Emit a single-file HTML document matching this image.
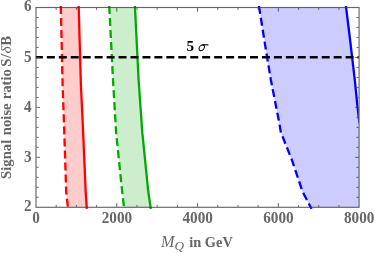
<!DOCTYPE html>
<html><head><meta charset="utf-8"><title>plot</title>
<style>html,body{margin:0;padding:0;background:#fff;overflow:hidden}svg{display:block;will-change:transform}</style>
</head><body>
<svg width="374" height="253" viewBox="0 0 374 253">
<defs><filter id="idf" x="0" y="0" width="374" height="253" filterUnits="userSpaceOnUse"><feOffset dx="0" dy="0"/></filter><clipPath id="c"><rect x="35.90" y="5.90" width="322.80" height="203.00"/></clipPath></defs>
<rect width="374" height="253" fill="#fff"/>
<polygon points="60.80,7.50 62.60,85.00 64.10,127.00 66.20,192.00 67.90,207.30 86.70,207.30 85.70,192.00 82.90,127.00 80.90,85.00 78.70,7.50" fill="#ffcccc"/>
<polygon points="109.30,7.50 113.00,80.00 116.10,132.40 122.20,192.00 124.00,207.30 150.60,207.30 148.30,192.00 142.30,132.40 138.60,80.00 135.00,7.50" fill="#cceecc"/>
<polygon points="259.15,7.50 264.00,38.00 267.10,57.40 270.90,80.00 278.70,120.00 280.90,132.40 291.90,160.00 302.50,191.50 310.70,207.30 359.10,207.30 359.10,122.80 358.50,115.00 357.30,105.00 354.80,80.00 350.10,40.00 346.10,7.50" fill="#ccccff"/>
<g fill="none" stroke-width="2.3" clip-path="url(#c)">
<path d="M60.76 5.90 L60.80 7.50 L62.60 85.00 L64.10 127.00 L66.20 192.00 L67.90 207.30 L68.08 208.90" stroke="#ff0000" stroke-dasharray="8.05 4.0"/>
<path d="M78.65 5.90 L78.70 7.50 L80.90 85.00 L82.90 127.00 L85.70 192.00 L86.70 207.30 L86.80 208.90" stroke="#ff0000"/>
<path d="M109.22 5.90 L109.30 7.50 L113.00 80.00 L116.10 132.40 L122.20 192.00 L124.00 207.30 L124.19 208.90" stroke="#00aa00" stroke-dasharray="8.05 4.0"/>
<path d="M134.92 5.90 L135.00 7.50 L138.60 80.00 L142.30 132.40 L148.30 192.00 L150.60 207.30 L150.84 208.90" stroke="#00aa00"/>
<path d="M258.90 5.90 L259.15 7.50 L264.00 38.00 L267.10 57.40 L270.90 80.00 L278.70 120.00 L280.90 132.40 L291.90 160.00 L302.50 191.50 L310.70 207.30 L311.53 208.90" stroke="#0000ff" stroke-dasharray="8.05 4.0"/>
<path d="M345.90 5.90 L346.10 7.50 L350.10 40.00 L354.80 80.00 L357.30 105.00 L358.50 115.00 L359.40 122.80" stroke="#0000ff"/>
<path d="M34.90 57.26 H360.10" stroke="#000" stroke-dasharray="8 3.95"/>
</g>
<rect x="36.0" y="7.5" width="323.1" height="199.8" fill="none" stroke="#404040" stroke-opacity="0.8" stroke-width="1.15"/>
<path d="M56.19 206.8 v-1.8 M56.19 8.0 v1.8 M76.39 206.8 v-1.8 M76.39 8.0 v1.8 M96.58 206.8 v-1.8 M96.58 8.0 v1.8 M116.78 206.8 v-3.7 M116.78 8.0 v3.7 M136.97 206.8 v-1.8 M136.97 8.0 v1.8 M157.16 206.8 v-1.8 M157.16 8.0 v1.8 M177.36 206.8 v-1.8 M177.36 8.0 v1.8 M197.55 206.8 v-3.7 M197.55 8.0 v3.7 M217.74 206.8 v-1.8 M217.74 8.0 v1.8 M237.94 206.8 v-1.8 M237.94 8.0 v1.8 M258.13 206.8 v-1.8 M258.13 8.0 v1.8 M278.33 206.8 v-3.7 M278.33 8.0 v3.7 M298.52 206.8 v-1.8 M298.52 8.0 v1.8 M318.71 206.8 v-1.8 M318.71 8.0 v1.8 M338.91 206.8 v-1.8 M338.91 8.0 v1.8 M36.5 197.31 h2.1 M358.6 197.31 h-2.1 M36.5 187.32 h2.1 M358.6 187.32 h-2.1 M36.5 177.33 h2.1 M358.6 177.33 h-2.1 M36.5 167.34 h2.1 M358.6 167.34 h-2.1 M36.5 157.35 h3.5 M358.6 157.35 h-3.5 M36.5 147.36 h2.1 M358.6 147.36 h-2.1 M36.5 137.37 h2.1 M358.6 137.37 h-2.1 M36.5 127.38 h2.1 M358.6 127.38 h-2.1 M36.5 117.39 h2.1 M358.6 117.39 h-2.1 M36.5 107.40 h3.5 M358.6 107.40 h-3.5 M36.5 97.41 h2.1 M358.6 97.41 h-2.1 M36.5 87.42 h2.1 M358.6 87.42 h-2.1 M36.5 77.43 h2.1 M358.6 77.43 h-2.1 M36.5 67.44 h2.1 M358.6 67.44 h-2.1 M36.5 57.45 h3.5 M358.6 57.45 h-3.5 M36.5 47.46 h2.1 M358.6 47.46 h-2.1 M36.5 37.47 h2.1 M358.6 37.47 h-2.1 M36.5 27.48 h2.1 M358.6 27.48 h-2.1 M36.5 17.49 h2.1 M358.6 17.49 h-2.1" stroke="#404040" stroke-opacity="0.8" stroke-width="1" fill="none"/>
<g font-family="'Liberation Serif', serif" font-weight="bold" font-size="15.2" fill="#666" filter="url(#idf)">
<text transform="translate(31.5 211.00) scale(1 1.04)" text-anchor="end">2</text>
<text transform="translate(31.5 161.55) scale(1 1.04)" text-anchor="end">3</text>
<text transform="translate(31.5 111.50) scale(1 1.04)" text-anchor="end">4</text>
<text transform="translate(31.5 61.75) scale(1 1.04)" text-anchor="end">5</text>
<text transform="translate(31.5 11.30) scale(1 1.04)" text-anchor="end">6</text>
<text transform="translate(36.10 223.2) scale(1 1.04)" text-anchor="middle">0</text>
<text transform="translate(116.88 223.2) scale(1 1.04)" text-anchor="middle">2000</text>
<text transform="translate(197.65 223.2) scale(1 1.04)" text-anchor="middle">4000</text>
<text transform="translate(278.43 223.2) scale(1 1.04)" text-anchor="middle">6000</text>
<text transform="translate(359.20 223.2) scale(1 1.04)" text-anchor="middle">8000</text>
<text y="247.4"><tspan x="160.9" font-style="italic" font-weight="normal" font-size="16.2">M</tspan><tspan x="174.6" dy="2.4" font-style="italic" font-weight="normal" font-size="13.2">Q</tspan></text><text x="189.3" y="247.4" textLength="43.5" lengthAdjust="spacingAndGlyphs">in GeV</text>
<text transform="translate(11.1 0) rotate(-90)" font-size="14.7"><tspan x="-178.9">Signal</tspan><tspan x="-135.2">noise</tspan><tspan x="-99.3">ratio</tspan><tspan x="-66.7" letter-spacing="0.5">S/<tspan font-style="italic" font-weight="normal" font-size="15.6">δ</tspan>B</tspan></text>
<text x="186.5" y="50.9" fill="#000">5</text>
<g fill="none" stroke="#000"><ellipse cx="0" cy="0" rx="2.55" ry="2.95" transform="translate(201.75 47.85) skewX(-16)" stroke-width="1.05"/><path d="M208.4 44.85 H202.6" stroke-width="1.15"/></g>
</g>
</svg>
</body></html>
